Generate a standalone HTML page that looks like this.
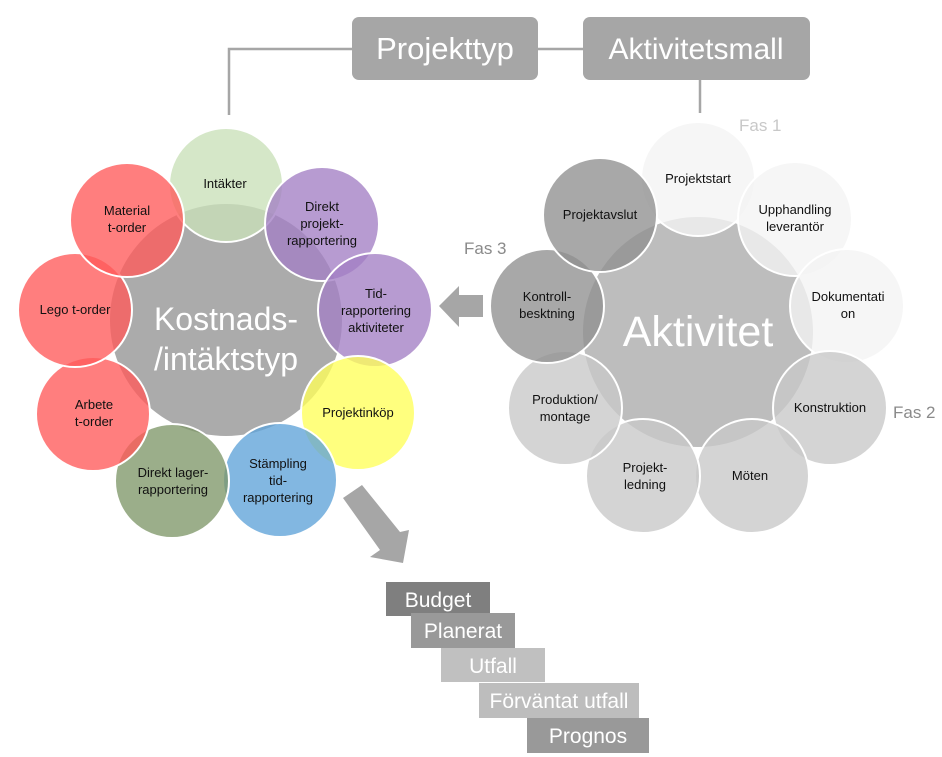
<!DOCTYPE html>
<html><head><meta charset="utf-8"><style>
html,body{margin:0;padding:0;background:#fff;}
svg{display:block;}
text{font-family:"Liberation Sans",sans-serif;}
.s{font-size:13px;fill:#111;text-anchor:middle;}
</style></head><body>
<svg width="942" height="757" viewBox="0 0 942 757" xmlns="http://www.w3.org/2000/svg">
<polyline points="229,115 229,49 352,49" fill="none" stroke="#a6a6a6" stroke-width="2.5"/>
<line x1="538" y1="49" x2="583" y2="49" stroke="#a6a6a6" stroke-width="2.5"/>
<line x1="700" y1="80" x2="700" y2="113" stroke="#a6a6a6" stroke-width="2.5"/>
<rect x="352" y="17" width="186" height="63" rx="7" fill="#a6a6a6"/>
<rect x="583" y="17" width="227" height="63" rx="7" fill="#a6a6a6"/>
<text x="445" y="59" font-size="31" fill="#fff" text-anchor="middle">Projekttyp</text>
<text x="696" y="59" font-size="30" fill="#fff" text-anchor="middle">Aktivitetsmall</text>

<circle cx="226" cy="320" r="116" fill="#ababab"/>
<g stroke="#fff" stroke-width="2" fill-opacity="0.78">
<circle cx="226" cy="185" r="57" fill="#c9e0b8"/>
<circle cx="322" cy="224" r="57" fill="#a37fc4"/>
<circle cx="375" cy="310" r="57" fill="#a37fc4"/>
<circle cx="358" cy="413" r="57" fill="#ffff5a"/>
<circle cx="280" cy="480" r="57" fill="#5fa3d8"/>
<circle cx="172" cy="481" r="57" fill="#7f9769"/>
<circle cx="93" cy="414" r="57" fill="#ff5a5a"/>
<circle cx="75" cy="310" r="57" fill="#ff5a5a"/>
<circle cx="127" cy="220" r="57" fill="#ff5a5a"/>
</g>
<text x="226" y="330" font-size="32" fill="#fff" text-anchor="middle">Kostnads-</text>
<text x="226" y="370" font-size="32" fill="#fff" text-anchor="middle">/intäktstyp</text>
<text class="s" x="225" y="188">Intäkter</text>
<text class="s" x="322" y="211">Direkt</text><text class="s" x="322" y="228">projekt-</text><text class="s" x="322" y="245">rapportering</text>
<text class="s" x="376" y="298">Tid-</text><text class="s" x="376" y="315">rapportering</text><text class="s" x="376" y="332">aktiviteter</text>
<text class="s" x="358" y="417">Projektinköp</text>
<text class="s" x="278" y="468">Stämpling</text><text class="s" x="278" y="485">tid-</text><text class="s" x="278" y="502">rapportering</text>
<text class="s" x="173" y="477">Direkt lager-</text><text class="s" x="173" y="494">rapportering</text>
<text class="s" x="94" y="409">Arbete</text><text class="s" x="94" y="426">t-order</text>
<text class="s" x="75" y="314">Lego t-order</text>
<text class="s" x="127" y="215">Material</text><text class="s" x="127" y="232">t-order</text>

<circle cx="698" cy="332" r="115" fill="#bdbdbd"/>
<g stroke="#fff" stroke-width="2" fill-opacity="0.78">
<circle cx="698" cy="179" r="57" fill="#f3f3f3"/>
<circle cx="795" cy="219" r="57" fill="#f3f3f3"/>
<circle cx="847" cy="306" r="57" fill="#f3f3f3"/>
<circle cx="830" cy="408" r="57" fill="#c8c8c8"/>
<circle cx="752" cy="476" r="57" fill="#c8c8c8"/>
<circle cx="643" cy="476" r="57" fill="#c8c8c8"/>
<circle cx="565" cy="408" r="57" fill="#c8c8c8"/>
<circle cx="547" cy="306" r="57" fill="#8f8f8f"/>
<circle cx="600" cy="215" r="57" fill="#8f8f8f"/>
</g>
<text x="698" y="346" font-size="43" fill="#fff" text-anchor="middle">Aktivitet</text>
<text class="s" x="698" y="183">Projektstart</text>
<text class="s" x="795" y="214">Upphandling</text><text class="s" x="795" y="231">leverantör</text>
<text class="s" x="848" y="301">Dokumentati</text><text class="s" x="848" y="318">on</text>
<text class="s" x="830" y="412">Konstruktion</text>
<text class="s" x="750" y="480">Möten</text>
<text class="s" x="645" y="472">Projekt-</text><text class="s" x="645" y="489">ledning</text>
<text class="s" x="565" y="404">Produktion/</text><text class="s" x="565" y="421">montage</text>
<text class="s" x="547" y="301">Kontroll-</text><text class="s" x="547" y="318">besktning</text>
<text class="s" x="600" y="219">Projektavslut</text>

<text x="739" y="131" font-size="17" fill="#c8c8c8">Fas 1</text>
<text x="893" y="418" font-size="17" fill="#8a8a8a">Fas 2</text>
<text x="464" y="254" font-size="17" fill="#8a8a8a">Fas 3</text>

<polygon points="439,306 459,286 459,295 483,295 483,317 459,317 459,327" fill="#a6a6a6"/>
<polygon points="343,498 362,485 400,532 409,530 403,563 370,557 380,550" fill="#a6a6a6"/>

<rect x="386" y="582" width="104" height="34" fill="#7f7f7f"/>
<text x="438" y="607" font-size="21" fill="#fff" text-anchor="middle">Budget</text>
<rect x="411" y="613" width="104" height="35" fill="#999"/>
<text x="463" y="638" font-size="21" fill="#fff" text-anchor="middle">Planerat</text>
<rect x="441" y="648" width="104" height="34" fill="#c0c0c0"/>
<text x="493" y="673" font-size="21" fill="#fff" text-anchor="middle">Utfall</text>
<rect x="479" y="683" width="160" height="35" fill="#bdbdbd"/>
<text x="559" y="708" font-size="21" fill="#fff" text-anchor="middle">Förväntat utfall</text>
<rect x="527" y="718" width="122" height="35" fill="#999"/>
<text x="588" y="743" font-size="21" fill="#fff" text-anchor="middle">Prognos</text>
</svg>
</body></html>
